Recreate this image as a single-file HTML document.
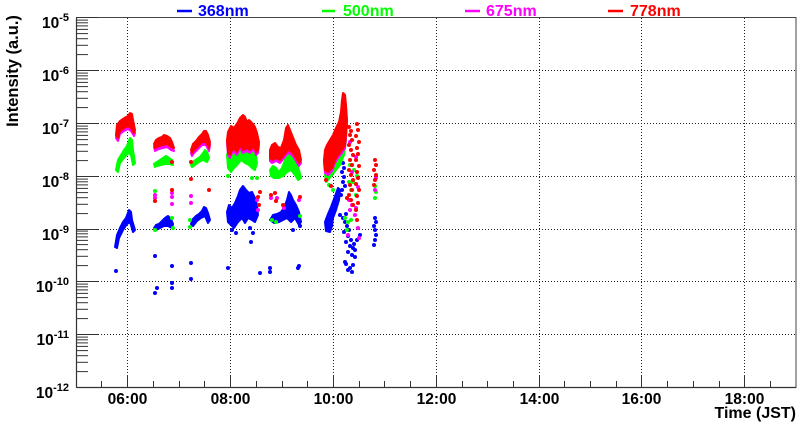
<!DOCTYPE html>
<html>
<head>
<meta charset="utf-8">
<style>
html,body{margin:0;padding:0;background:#fff;}
svg{display:block;}
text{font-family:"Liberation Sans",Arial,sans-serif;font-weight:bold;}
</style>
</head>
<body>
<svg width="800" height="427" viewBox="0 0 800 427" xmlns="http://www.w3.org/2000/svg">
<rect x="0" y="0" width="800" height="427" fill="#fff"/>

<!-- grid -->
<g stroke="#222" stroke-width="1" stroke-dasharray="1,2" fill="none">
  <line x1="127.5" y1="18" x2="127.5" y2="387"/>
  <line x1="230.5" y1="18" x2="230.5" y2="387"/>
  <line x1="333.5" y1="18" x2="333.5" y2="387"/>
  <line x1="436.5" y1="18" x2="436.5" y2="387"/>
  <line x1="539.5" y1="18" x2="539.5" y2="387"/>
  <line x1="641.5" y1="18" x2="641.5" y2="387"/>
  <line x1="744.5" y1="18" x2="744.5" y2="387"/>
  <line x1="77" y1="70.5" x2="796" y2="70.5"/>
  <line x1="77" y1="123.5" x2="796" y2="123.5"/>
  <line x1="77" y1="176.5" x2="796" y2="176.5"/>
  <line x1="77" y1="229.5" x2="796" y2="229.5"/>
  <line x1="77" y1="281.5" x2="796" y2="281.5"/>
  <line x1="77" y1="334.5" x2="796" y2="334.5"/>
</g>

<!-- frame -->
<rect x="76.5" y="17.5" width="719.5" height="370" fill="none" stroke="#444" stroke-width="1"/>
<line x1="76.5" y1="17.5" x2="76.5" y2="387.5" stroke="#333" stroke-width="1.2"/>
<line x1="76.5" y1="387.5" x2="796" y2="387.5" stroke="#333" stroke-width="1.2"/>

<!-- y ticks -->
<g stroke="#333" stroke-width="1">
  <line x1="77" y1="17.5" x2="98" y2="17.5"/>
  <line x1="77" y1="70.5" x2="98" y2="70.5"/>
  <line x1="77" y1="123.5" x2="98" y2="123.5"/>
  <line x1="77" y1="176.5" x2="98" y2="176.5"/>
  <line x1="77" y1="229.5" x2="98" y2="229.5"/>
  <line x1="77" y1="281.5" x2="98" y2="281.5"/>
  <line x1="77" y1="334.5" x2="98" y2="334.5"/>
</g>
<g stroke="#333" stroke-width="1">
  <line x1="77" y1="54.6" x2="88" y2="54.6"/><line x1="77" y1="45.3" x2="88" y2="45.3"/><line x1="77" y1="38.7" x2="88" y2="38.7"/><line x1="77" y1="33.6" x2="88" y2="33.6"/><line x1="77" y1="29.4" x2="88" y2="29.4"/><line x1="77" y1="25.9" x2="88" y2="25.9"/><line x1="77" y1="22.8" x2="88" y2="22.8"/><line x1="77" y1="20.1" x2="88" y2="20.1"/>
  <line x1="77" y1="107.6" x2="88" y2="107.6"/><line x1="77" y1="98.3" x2="88" y2="98.3"/><line x1="77" y1="91.7" x2="88" y2="91.7"/><line x1="77" y1="86.6" x2="88" y2="86.6"/><line x1="77" y1="82.4" x2="88" y2="82.4"/><line x1="77" y1="78.9" x2="88" y2="78.9"/><line x1="77" y1="75.8" x2="88" y2="75.8"/><line x1="77" y1="73.1" x2="88" y2="73.1"/>
  <line x1="77" y1="160.6" x2="88" y2="160.6"/><line x1="77" y1="151.3" x2="88" y2="151.3"/><line x1="77" y1="144.7" x2="88" y2="144.7"/><line x1="77" y1="139.6" x2="88" y2="139.6"/><line x1="77" y1="135.4" x2="88" y2="135.4"/><line x1="77" y1="131.9" x2="88" y2="131.9"/><line x1="77" y1="128.8" x2="88" y2="128.8"/><line x1="77" y1="126.1" x2="88" y2="126.1"/>
  <line x1="77" y1="213.6" x2="88" y2="213.6"/><line x1="77" y1="204.3" x2="88" y2="204.3"/><line x1="77" y1="197.7" x2="88" y2="197.7"/><line x1="77" y1="192.6" x2="88" y2="192.6"/><line x1="77" y1="188.4" x2="88" y2="188.4"/><line x1="77" y1="184.9" x2="88" y2="184.9"/><line x1="77" y1="181.8" x2="88" y2="181.8"/><line x1="77" y1="179.1" x2="88" y2="179.1"/>
  <line x1="77" y1="265.6" x2="88" y2="265.6"/><line x1="77" y1="256.3" x2="88" y2="256.3"/><line x1="77" y1="249.7" x2="88" y2="249.7"/><line x1="77" y1="244.6" x2="88" y2="244.6"/><line x1="77" y1="240.4" x2="88" y2="240.4"/><line x1="77" y1="236.9" x2="88" y2="236.9"/><line x1="77" y1="233.8" x2="88" y2="233.8"/><line x1="77" y1="231.1" x2="88" y2="231.1"/>
  <line x1="77" y1="318.6" x2="88" y2="318.6"/><line x1="77" y1="309.3" x2="88" y2="309.3"/><line x1="77" y1="302.7" x2="88" y2="302.7"/><line x1="77" y1="297.6" x2="88" y2="297.6"/><line x1="77" y1="293.4" x2="88" y2="293.4"/><line x1="77" y1="289.9" x2="88" y2="289.9"/><line x1="77" y1="286.8" x2="88" y2="286.8"/><line x1="77" y1="284.1" x2="88" y2="284.1"/>
  <line x1="77" y1="371.6" x2="88" y2="371.6"/><line x1="77" y1="362.3" x2="88" y2="362.3"/><line x1="77" y1="355.7" x2="88" y2="355.7"/><line x1="77" y1="350.6" x2="88" y2="350.6"/><line x1="77" y1="346.4" x2="88" y2="346.4"/><line x1="77" y1="342.9" x2="88" y2="342.9"/><line x1="77" y1="339.8" x2="88" y2="339.8"/><line x1="77" y1="337.1" x2="88" y2="337.1"/>
</g>

<!-- x ticks -->
<g stroke="#333" stroke-width="1">
  <line x1="127.5" y1="375" x2="127.5" y2="387"/>
  <line x1="230.5" y1="375" x2="230.5" y2="387"/>
  <line x1="333.5" y1="375" x2="333.5" y2="387"/>
  <line x1="436.5" y1="375" x2="436.5" y2="387"/>
  <line x1="539.5" y1="375" x2="539.5" y2="387"/>
  <line x1="641.5" y1="375" x2="641.5" y2="387"/>
  <line x1="744.5" y1="375" x2="744.5" y2="387"/>
  <line x1="101.5" y1="381" x2="101.5" y2="387"/>
  <line x1="153.5" y1="381" x2="153.5" y2="387"/>
  <line x1="179.5" y1="381" x2="179.5" y2="387"/>
  <line x1="204.5" y1="381" x2="204.5" y2="387"/>
  <line x1="256.5" y1="381" x2="256.5" y2="387"/>
  <line x1="282.5" y1="381" x2="282.5" y2="387"/>
  <line x1="307.5" y1="381" x2="307.5" y2="387"/>
  <line x1="359.5" y1="381" x2="359.5" y2="387"/>
  <line x1="384.5" y1="381" x2="384.5" y2="387"/>
  <line x1="410.5" y1="381" x2="410.5" y2="387"/>
  <line x1="462.5" y1="381" x2="462.5" y2="387"/>
  <line x1="487.5" y1="381" x2="487.5" y2="387"/>
  <line x1="513.5" y1="381" x2="513.5" y2="387"/>
  <line x1="564.5" y1="381" x2="564.5" y2="387"/>
  <line x1="590.5" y1="381" x2="590.5" y2="387"/>
  <line x1="616.5" y1="381" x2="616.5" y2="387"/>
  <line x1="667.5" y1="381" x2="667.5" y2="387"/>
  <line x1="693.5" y1="381" x2="693.5" y2="387"/>
  <line x1="719.5" y1="381" x2="719.5" y2="387"/>
  <line x1="770.5" y1="381" x2="770.5" y2="387"/>
</g>

<!-- y labels -->
<g font-size="15.5" fill="#000" text-anchor="end">
  <text x="69" y="28">10<tspan font-size="11" dy="-7">-5</tspan></text>
  <text x="69" y="81">10<tspan font-size="11" dy="-7">-6</tspan></text>
  <text x="69" y="134">10<tspan font-size="11" dy="-7">-7</tspan></text>
  <text x="69" y="187">10<tspan font-size="11" dy="-7">-8</tspan></text>
  <text x="69" y="240">10<tspan font-size="11" dy="-7">-9</tspan></text>
  <text x="69" y="292">10<tspan font-size="11" dy="-7">-10</tspan></text>
  <text x="69" y="345">10<tspan font-size="11" dy="-7">-11</tspan></text>
  <text x="69" y="398">10<tspan font-size="11" dy="-7">-12</tspan></text>
</g>

<!-- x labels -->
<g font-size="15.5" fill="#000" text-anchor="middle">
  <text x="127.5" y="404">06:00</text>
  <text x="230.5" y="404">08:00</text>
  <text x="333.5" y="404">10:00</text>
  <text x="436.5" y="404">12:00</text>
  <text x="539.5" y="404">14:00</text>
  <text x="641.5" y="404">16:00</text>
  <text x="744.5" y="404">18:00</text>
</g>
<text x="796" y="418" font-size="16" text-anchor="end" fill="#000">Time (JST)</text>
<text transform="translate(18,71) rotate(-90)" font-size="16.5" text-anchor="middle" fill="#000">Intensity (a.u.)</text>

<!-- legend -->
<g stroke-width="2.5">
  <line x1="177" y1="11" x2="192" y2="11" stroke="#0000ff"/>
  <line x1="322" y1="11" x2="335" y2="11" stroke="#00ff00"/>
  <line x1="465" y1="11" x2="480" y2="11" stroke="#ff00ff"/>
  <line x1="608" y1="11" x2="623" y2="11" stroke="#ff0000"/>
</g>
<g font-size="16">
  <text x="198" y="16" fill="#0000ff">368nm</text>
  <text x="343" y="16" fill="#00ff00">500nm</text>
  <text x="486" y="16" fill="#ff00ff">675nm</text>
  <text x="630" y="16" fill="#ff0000">778nm</text>
</g>

<!-- ===== DATA ===== -->
<!-- blue 368nm -->
<g fill="#0000ff" stroke="#0000ff" stroke-width="2" stroke-linejoin="round">
  <polygon points="115,247 117,235 120,228 123,222 126,218 129,210 131,212 132,220 135,230 133,232 130,222 127,224 123,230 119,238 117,248"/>
  <polygon points="154,228 156,225 159,224 162,221 165,218 168,216 171,219 173,224 172,228 168,226 164,226 160,228 156,230"/>
  <polygon points="191,224 193,219 196,216 199,214 202,211 204,207 206,208 208,213 210,220 208,223 205,216 201,218 197,221 193,226"/>
  <polygon points="227,212 229,205 232,208 235,203 238,196 240,190 243,186 246,190 249,193 252,192 255,198 257,205 258,215 255,222 252,220 248,218 245,223 242,218 238,222 234,228 231,225 228,222"/>
  <polygon points="270,220 273,215 277,214 281,212 284,208 287,200 289,192 291,195 293,200 296,205 299,212 301,222 299,225 295,218 291,222 287,218 283,220 279,222 274,223"/>
  <polygon points="338,188 340,190 339,200 336,210 333,218 332,226 330,232 326,231 325,222 328,214 331,207 334,199"/>
</g>
<g fill="#0000ff">
  <circle cx="116" cy="271" r="2"/>
  <circle cx="155" cy="256" r="2"/><circle cx="157" cy="288" r="2"/><circle cx="155" cy="293" r="2"/>
  <circle cx="172" cy="266" r="2"/><circle cx="172" cy="283" r="2"/><circle cx="172" cy="288" r="2"/>
  <circle cx="191" cy="263" r="2"/><circle cx="191" cy="279" r="2"/>
  <circle cx="232" cy="230" r="2"/><circle cx="236" cy="233" r="2"/><circle cx="250" cy="228" r="2"/><circle cx="253" cy="233" r="2"/><circle cx="251" cy="242" r="2"/>
  <circle cx="228" cy="268" r="2"/><circle cx="260" cy="273" r="2"/><circle cx="270" cy="272" r="2"/><circle cx="270" cy="268" r="2"/>
  <circle cx="298" cy="268" r="2"/><circle cx="299" cy="266" r="2"/>
  <circle cx="293" cy="230" r="2"/><circle cx="300" cy="226" r="2"/>
  <!-- cluster 6 spike -->
  <circle cx="343" cy="163" r="2"/><circle cx="344" cy="168" r="2"/><circle cx="342" cy="172" r="2"/><circle cx="344" cy="177" r="2"/><circle cx="343" cy="182" r="2"/><circle cx="345" cy="186" r="2"/><circle cx="342" cy="190" r="2"/><circle cx="341" cy="195" r="2"/>
  <!-- cluster 6 lower -->
  <circle cx="343" cy="218" r="2"/><circle cx="345" cy="222" r="2"/><circle cx="347" cy="226" r="2"/><circle cx="349" cy="230" r="2"/><circle cx="344" cy="232" r="2"/><circle cx="348" cy="236" r="2"/><circle cx="351" cy="240" r="2"/><circle cx="346" cy="242" r="2"/><circle cx="350" cy="246" r="2"/><circle cx="353" cy="248" r="2"/><circle cx="348" cy="252" r="2"/><circle cx="352" cy="255" r="2"/><circle cx="355" cy="250" r="2"/><circle cx="354" cy="244" r="2"/><circle cx="345" cy="262" r="2"/><circle cx="350" cy="268" r="2"/><circle cx="352" cy="272" r="2"/><circle cx="348" cy="270" r="2"/><circle cx="346" cy="264" r="2"/><circle cx="355" cy="257" r="2"/><circle cx="353" cy="265" r="2"/><circle cx="357" cy="240" r="2"/><circle cx="360" cy="235" r="2"/><circle cx="340" cy="215" r="2"/><circle cx="346" cy="214" r="2"/>
  <!-- right column -->
  <circle cx="375" cy="218" r="2"/><circle cx="376" cy="222" r="2"/><circle cx="374" cy="226" r="2"/><circle cx="375" cy="230" r="2"/><circle cx="376" cy="235" r="2"/><circle cx="375" cy="240" r="2"/><circle cx="374" cy="245" r="2"/>
</g>

<!-- green 500nm -->
<g fill="#00ff00" stroke="#00ff00" stroke-width="2" stroke-linejoin="round">
  <polygon points="116,170 118,160 121,155 124,150 127,146 130,138 132,140 133,150 135,163 133,165 131,155 128,153 124,158 120,163 118,172"/>
  <polygon points="154,164 157,162 160,160 163,158 166,156 169,158 172,160 173,165 169,164 165,164 161,165 157,166 155,167"/>
  <polygon points="191,165 194,161 197,159 200,157 203,153 205,150 207,152 209,158 207,162 203,160 199,162 195,165 192,167"/>
  <polygon points="227,155 229,148 232,150 235,146 238,140 241,137 244,136 246,140 248,145 250,150 253,148 256,155 257,163 255,170 252,168 249,165 245,163 241,160 237,165 234,168 231,172 228,168"/>
  <polygon points="270,170 273,166 276,168 279,172 282,168 285,160 287,152 290,140 292,145 294,152 296,162 299,170 301,178 298,180 295,175 291,170 287,172 283,176 279,178 274,178 271,176"/>
  <polygon points="325,175 327,168 330,163 334,160 338,155 341,140 343,122 345,125 346,140 344,155 340,165 336,170 332,175 328,180 326,182"/>
</g>
<g fill="#00ff00">
  <circle cx="155" cy="191" r="2"/><circle cx="155" cy="230" r="2"/><circle cx="172" cy="218" r="2"/><circle cx="173" cy="228" r="2"/>
  <circle cx="190" cy="220" r="2"/><circle cx="190" cy="227" r="2"/>
  <circle cx="228" cy="176" r="2"/><circle cx="252" cy="178" r="2"/><circle cx="257" cy="178" r="2"/>
  <circle cx="272" cy="220" r="2"/><circle cx="276" cy="222" r="2"/><circle cx="300" cy="216" r="2"/>
  <circle cx="350" cy="165" r="2"/><circle cx="353" cy="182" r="2"/><circle cx="357" cy="176" r="2"/><circle cx="351" cy="190" r="2"/><circle cx="356" cy="195" r="2"/><circle cx="349" cy="182" r="2"/><circle cx="354" cy="170" r="2"/>
  <circle cx="345" cy="218" r="2"/><circle cx="348" cy="222" r="2"/><circle cx="351" cy="220" r="2"/><circle cx="347" cy="230" r="2"/>
  <circle cx="375" cy="186" r="2"/><circle cx="376" cy="192" r="2"/><circle cx="375" cy="198" r="2"/>
  <circle cx="329" cy="185" r="2"/><circle cx="333" cy="190" r="2"/>
</g>

<!-- magenta 675nm -->
<g fill="#ff00ff" stroke="#ff00ff" stroke-width="2" stroke-linejoin="round" transform="translate(0,3)">
  <polygon points="116,135 117,125 120,121 123,119 126,117 128,116 130,113 132,114 133,120 135,130 134,133 131,128 128,126 124,128 120,131 118,138"/>
  <polygon points="154,144 156,140 159,138 162,137 164,135 167,136 170,138 172,142 174,148 171,147 167,144 163,145 159,146 155,148"/>
  <polygon points="191,150 193,144 196,141 199,137 202,134 204,131 206,131 208,135 210,142 209,148 206,142 202,142 198,146 194,150 192,153"/>
  <polygon points="227,140 228,132 231,126 234,128 236,125 238,122 240,118 243,115 245,117 247,122 249,120 251,122 253,124 255,127 257,133 259,142 258,150 256,152 254,146 250,150 247,148 243,150 240,145 237,152 233,148 230,155 228,152"/>
  <polygon points="270,150 272,145 275,143 278,147 281,148 284,140 286,128 288,125 290,130 292,135 294,140 296,145 299,150 301,160 299,163 296,158 292,152 288,150 284,155 280,160 276,158 272,160 270,158"/>
  <polygon points="324,160 325,150 327,145 330,140 333,135 336,128 339,122 341,112 342,100 343,93 345,95 346,105 347,120 346,135 345,145 342,150 338,155 335,160 332,168 328,172 325,170"/>
</g>
<g fill="#ff00ff">
  <circle cx="155" cy="195" r="2"/><circle cx="155" cy="198" r="2"/>
  <circle cx="172" cy="193" r="2"/><circle cx="172" cy="197" r="2"/><circle cx="172" cy="204" r="2"/>
  <circle cx="191" cy="196" r="2"/><circle cx="191" cy="203" r="2"/>
  <circle cx="257" cy="200" r="2"/><circle cx="258" cy="210" r="2"/>
  <circle cx="271" cy="198" r="2"/><circle cx="277" cy="198" r="2"/><circle cx="284" cy="208" r="2"/><circle cx="299" cy="200" r="2"/>
  <circle cx="350" cy="142" r="2"/><circle cx="356" cy="157" r="2"/><circle cx="352" cy="172" r="2"/><circle cx="358" cy="187" r="2"/><circle cx="350" cy="210" r="2"/><circle cx="355" cy="215" r="2"/><circle cx="348" cy="235" r="2"/><circle cx="358" cy="228" r="2"/>
  <circle cx="349" cy="200" r="2"/><circle cx="352" cy="205" r="2"/><circle cx="356" cy="208" r="2"/><circle cx="359" cy="238" r="2"/>
  <circle cx="376" cy="178" r="2"/><circle cx="375" cy="190" r="2"/>
</g>

<!-- red 778nm -->
<g fill="#ff0000" stroke="#ff0000" stroke-width="2" stroke-linejoin="round">
  <polygon points="116,135 117,125 120,121 123,119 126,117 128,116 130,113 132,114 133,120 135,130 134,133 131,128 128,126 124,128 120,131 118,138"/>
  <polygon points="154,144 156,140 159,138 162,137 164,135 167,136 170,138 172,142 174,148 171,147 167,144 163,145 159,146 155,148"/>
  <polygon points="191,150 193,144 196,141 199,137 202,134 204,131 206,131 208,135 210,142 209,148 206,142 202,142 198,146 194,150 192,153"/>
  <polygon points="227,140 228,132 231,126 234,128 236,125 238,122 240,118 243,115 245,117 247,122 249,120 251,122 253,124 255,127 257,133 259,142 258,150 256,152 254,146 250,150 247,148 243,150 240,145 237,152 233,148 230,155 228,152"/>
  <polygon points="270,150 272,145 275,143 278,147 281,148 284,140 286,128 288,125 290,130 292,135 294,140 296,145 299,150 301,160 299,163 296,158 292,152 288,150 284,155 280,160 276,158 272,160 270,158"/>
  <polygon points="324,160 325,150 327,145 330,140 333,135 336,128 339,122 341,112 342,100 343,93 345,95 346,105 347,120 346,135 345,145 342,150 338,155 335,160 332,168 328,172 325,170"/>
</g>
<g fill="#ff0000">
  <circle cx="172" cy="162" r="2"/><circle cx="155" cy="201" r="2"/><circle cx="172" cy="190" r="2"/>
  <circle cx="191" cy="162" r="2"/><circle cx="191" cy="179" r="2"/><circle cx="209" cy="190" r="2"/>
  <circle cx="258" cy="197" r="2"/><circle cx="259" cy="205" r="2"/><circle cx="260" cy="192" r="2"/>
  <circle cx="271" cy="195" r="2"/><circle cx="275" cy="193" r="2"/><circle cx="276" cy="201" r="2"/><circle cx="283" cy="205" r="2"/><circle cx="300" cy="197" r="2"/>
  <circle cx="326" cy="180" r="2"/><circle cx="331" cy="186" r="2"/>
  <!-- column 1 -->
  <circle cx="349" cy="127" r="2"/><circle cx="351" cy="131" r="2"/><circle cx="350" cy="135" r="2"/><circle cx="352" cy="140" r="2"/><circle cx="349" cy="145" r="2"/><circle cx="351" cy="150" r="2"/><circle cx="353" cy="155" r="2"/><circle cx="350" cy="160" r="2"/><circle cx="352" cy="165" r="2"/><circle cx="349" cy="170" r="2"/><circle cx="351" cy="175" r="2"/><circle cx="353" cy="180" r="2"/><circle cx="350" cy="185" r="2"/><circle cx="352" cy="190" r="2"/><circle cx="349" cy="195" r="2"/><circle cx="351" cy="200" r="2"/><circle cx="353" cy="205" r="2"/><circle cx="347" cy="198" r="2"/>
  <!-- column 2 -->
  <circle cx="357" cy="124" r="2"/><circle cx="358" cy="130" r="2"/><circle cx="356" cy="136" r="2"/><circle cx="359" cy="142" r="2"/><circle cx="357" cy="148" r="2"/><circle cx="358" cy="154" r="2"/><circle cx="356" cy="160" r="2"/><circle cx="359" cy="166" r="2"/><circle cx="357" cy="172" r="2"/><circle cx="358" cy="178" r="2"/><circle cx="356" cy="184" r="2"/><circle cx="359" cy="190" r="2"/><circle cx="357" cy="196" r="2"/><circle cx="358" cy="203" r="2"/><circle cx="356" cy="210" r="2"/><circle cx="357" cy="220" r="2"/>
  <!-- right column -->
  <circle cx="375" cy="160" r="2"/><circle cx="376" cy="165" r="2"/><circle cx="374" cy="170" r="2"/><circle cx="376" cy="175" r="2"/><circle cx="375" cy="180" r="2"/><circle cx="374" cy="185" r="2"/>
</g>
</svg>
</body>
</html>
